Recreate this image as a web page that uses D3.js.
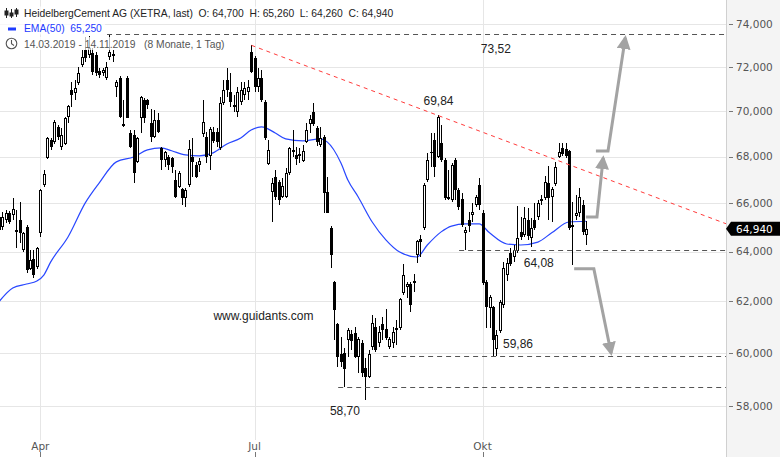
<!DOCTYPE html>
<html><head><meta charset="utf-8">
<script src="https://cdn.jsdelivr.net/npm/d3@7"></script>
<style>body{margin:0;background:#fff;} svg{display:block}</style>
</head><body><svg id="c" width="780" height="457"></svg>
<script>
// ---- data ----
const opens  = [65.43,65.01,65.31,65.60,65.51,64.89,65.31,64.07,65.01,63.30,63.70,63.38,64.77,66.78,67.94,68.72,68.64,69.30,68.42,68.55,69.74,70.95,70.82,71.27,72.09,72.78,72.55,72.65,72.55,71.82,71.73,71.50,72.46,72.55,71.09,71.50,69.43,71.50,69.03,68.94,67.77,69.69,70.50,70.50,69.47,68.86,69.61,68.38,67.85,67.98,67.94,66.99,66.69,66.61,66.23,66.78,67.98,67.64,67.64,68.99,68.86,68.03,69.07,69.07,68.38,70.36,71.40,70.86,70.27,69.96,70.41,70.73,70.86,72.69,72.41,71.09,71.50,70.41,67.68,66.48,67.12,66.90,66.27,66.27,67.29,68.25,68.07,68.11,67.81,68.64,69.43,69.96,69.25,68.51,68.86,66.48,64.97,62.77,61.11,59.95,59.99,60.49,60.73,60.76,59.84,60.38,59.42,59.08,60.22,61.00,60.38,61.11,60.92,60.22,60.38,60.88,60.96,62.33,62.57,62.69,62.73,63.86,64.52,64.97,66.99,68.20,68.72,67.98,68.59,67.85,66.27,66.14,67.85,66.57,66.18,64.77,65.30,65.51,65.93,66.78,65.60,62.77,61.74,61.78,60.15,60.84,61.86,63.06,63.94,63.78,64.03,64.81,64.68,65.31,64.56,65.31,65.43,66.10,66.23,66.86,66.27,66.82,67.98,68.38,68.33,68.25,65.01,65.47,65.60,65.93,64.70];
const highs  = [65.64,65.64,65.72,65.68,66.23,65.72,66.06,64.81,65.10,64.07,64.07,64.19,66.61,67.42,68.86,68.81,69.61,69.38,69.25,69.74,70.27,71.31,71.40,72.00,72.78,73.40,73.45,72.88,72.69,71.95,71.95,72.23,73.52,72.78,71.40,71.58,70.50,71.58,69.16,69.16,68.86,70.68,70.59,70.55,70.09,70.05,69.92,68.42,68.25,68.07,67.98,67.42,67.38,66.65,66.65,68.72,68.81,67.77,67.94,70.50,69.07,69.29,69.29,69.25,70.64,71.40,71.95,71.73,70.73,71.09,71.31,71.31,71.40,73.00,72.50,71.95,71.86,70.50,68.72,67.08,67.42,66.99,67.08,67.51,68.42,69.16,68.42,68.38,68.51,69.47,69.83,70.36,69.34,69.29,68.94,67.12,65.06,62.81,61.15,60.61,60.19,60.96,60.88,61.00,60.61,60.49,59.80,60.11,61.46,61.35,61.04,61.38,61.70,60.61,61.00,61.27,62.13,63.50,62.77,62.77,63.09,64.47,64.68,66.86,68.16,69.03,69.03,69.84,69.38,67.94,67.42,67.72,67.94,66.65,66.44,65.01,65.64,66.01,66.35,67.08,65.72,62.85,62.25,61.82,60.88,62.05,63.58,63.74,64.15,64.27,65.89,65.43,65.85,65.81,65.39,66.01,66.14,66.35,67.16,67.60,66.69,67.77,68.59,68.59,68.59,68.29,66.06,66.35,66.65,66.14,65.26];
const lows   = [64.81,64.89,65.18,65.14,65.31,64.15,64.35,63.98,63.13,63.26,62.93,63.30,64.60,66.69,67.90,68.29,68.55,68.72,68.29,68.51,69.47,70.18,70.50,71.18,72.00,72.23,72.41,71.63,71.58,71.50,71.58,71.40,72.32,72.23,70.64,69.69,69.29,69.69,68.38,66.86,67.72,69.03,69.47,70.10,68.64,68.81,69.03,67.42,67.55,67.42,67.29,66.23,66.65,65.93,65.85,66.69,67.12,67.08,67.34,68.86,67.72,67.42,68.60,68.42,68.29,70.27,70.64,70.18,69.96,69.74,70.27,70.50,70.50,71.73,70.86,70.86,70.41,68.72,67.64,65.20,66.14,65.93,66.23,66.23,67.20,67.98,67.64,67.72,67.77,68.60,69.03,69.34,68.46,68.42,65.60,65.60,63.34,60.48,59.46,59.46,58.70,59.84,60.11,59.80,59.23,59.08,58.23,59.04,60.11,60.03,60.22,60.49,60.49,60.15,60.19,60.30,60.88,62.25,62.13,61.58,62.37,63.54,63.78,64.89,66.90,67.55,67.12,67.94,67.77,66.14,66.14,66.06,66.14,65.72,65.01,64.08,64.81,65.22,65.85,65.72,62.65,60.96,60.96,59.86,59.86,60.76,61.74,62.81,63.42,63.58,63.94,64.47,64.60,64.47,64.19,64.89,65.31,65.93,66.14,65.31,65.22,66.74,67.94,68.03,67.94,64.89,63.46,65.31,65.43,64.68,64.26];
const closes = [64.89,65.43,65.60,65.22,65.77,64.81,64.77,64.77,63.26,63.66,63.05,64.15,66.57,67.25,68.81,68.42,69.52,68.86,68.94,69.69,70.23,70.73,71.04,71.74,72.46,72.41,72.88,71.77,71.73,71.63,71.86,72.00,72.69,72.58,71.31,69.74,69.34,69.69,68.42,67.29,68.81,70.64,69.69,70.27,68.86,69.61,69.07,67.85,68.20,67.64,67.55,66.27,67.29,66.23,66.57,68.33,67.77,67.12,67.81,69.52,67.98,69.20,68.68,68.64,70.36,70.95,70.95,70.41,70.18,70.86,70.95,71.04,71.09,71.77,71.09,71.50,70.50,68.81,68.29,66.86,66.27,66.14,66.74,67.29,68.38,68.29,67.90,68.03,68.25,69.16,69.65,69.43,68.64,68.81,66.44,65.60,63.86,61.66,59.84,59.65,59.38,60.88,60.46,59.84,60.53,59.23,59.08,59.95,61.15,60.11,60.80,60.88,60.57,60.53,60.80,60.96,62.09,63.05,62.69,61.86,62.81,64.43,64.39,66.78,67.85,68.16,67.55,69.74,67.85,66.23,66.20,67.64,66.57,65.85,65.10,64.89,65.05,65.64,66.27,65.93,62.73,61.78,62.17,60.49,60.69,61.97,63.34,63.54,63.50,64.07,64.56,64.60,65.39,64.64,64.97,64.97,66.01,66.18,66.90,66.23,66.61,67.55,68.20,68.11,68.03,64.97,65.10,65.60,66.27,64.81,64.94];
// EMA(50): candle index -> value
const emaIdx = [0,4,8,11,13,15,20,25,29,34,39,43,47,50,54,58,62,66,70,73,76,80,83,88,93,95,99,101,104,108,112,116,121,124,128,131,135,139,142,147,151,156,160,165,170];
const emaVal = [61.98,62.53,62.69,62.81,63.05,63.58,64.60,66.02,66.86,67.77,67.98,68.29,68.38,68.25,68.07,68.03,68.16,68.55,68.81,69.16,69.30,69.03,68.77,68.68,68.77,68.64,67.72,66.99,66.27,65.23,64.48,63.98,63.78,64.27,64.81,65.05,65.14,65.14,64.77,64.31,64.27,64.39,64.77,65.22,65.25];
const yTicks = [58,60,62,64,66,68,70,72,74];
const monthIdx = [12,74,140];
const monthLabels = ["Apr","Jul","Okt"];
// annotations: horizontal levels [startIndex, value, label]
const levels = [[31.3,73.52,"73,52"],[133.2,64.08,"64,08"],[111.2,59.86,"59,86"],[98.2,58.70,"58,70"]];
// label anchors [index, value]
const levelLabelPos = [[139.5,72.85],[151.9,63.56],[145.9,60.35],[95.8,57.82]];
const trendPts = [[73.1,73.0],[127.2,69.80]];
const trendLabel = ["69,84",122.9,70.45];
const arrows = [
  [[172.8,68.24],[176.3,68.24],[181.3,73.35]],
  [[169.9,65.43],[173.1,65.43],[174.9,67.94]],
  [[166.5,63.30],[172.2,63.30],[177.2,59.98]]
];
const lastClose = 64.94;

// ---- chart ----
const svg = d3.select("#c");
const plotR = 726;
const x = d3.scaleLinear().domain([0,170]).range([-1.1, -1.1+3.455*170]);
const y = d3.scaleLog().domain([58,74]).range([405.9,24]);
const fmt = v => d3.format(",.3f")(v).replace(/,/g,"#").replace(".",",").replace(/#/g,".");
const fmt2 = v => v.toFixed(3).replace(".",",");

// right axis panel
svg.append("rect").attr("x",plotR).attr("y",0).attr("width",780-plotR).attr("height",457).attr("fill","#f4f4f4");
svg.append("line").attr("x1",plotR+0.5).attr("x2",plotR+0.5).attr("y1",0).attr("y2",457).attr("stroke","#d0d0d0");

const plot = svg.append("g");
plot.append("defs").append("clipPath").attr("id","pc").append("rect").attr("x",0).attr("y",0).attr("width",plotR).attr("height",440);

// grid
plot.selectAll(".hg").data(yTicks).join("line")
  .attr("x1",0).attr("x2",plotR).attr("y1",d=>Math.round(y(d))+0.5).attr("y2",d=>Math.round(y(d))+0.5)
  .attr("stroke","#e6e6e6");
plot.selectAll(".vg").data(monthIdx).join("line")
  .attr("x1",d=>Math.round(x(d))+0.5).attr("x2",d=>Math.round(x(d))+0.5).attr("y1",0).attr("y2",440)
  .attr("stroke","#e6e6e6");

// right axis ticks + labels
const ax = svg.append("g");
ax.selectAll("line").data(yTicks).join("line")
  .attr("x1",plotR+3).attr("x2",plotR+7).attr("y1",d=>Math.round(y(d))+0.5).attr("y2",d=>Math.round(y(d))+0.5).attr("stroke","#777");
ax.selectAll("text").data(yTicks).join("text")
  .attr("x",plotR+10).attr("y",d=>y(d)).attr("dy","0.36em")
  .attr("font-family","DejaVu Sans, sans-serif").attr("font-size","10.5px").attr("fill","#555")
  .text(d=>d3.format(".3f")(d).replace(".",",").replace(/^(\d\d),(\d)(\d\d)$/, "$1,$2$3"));
// fix: labels like 74,000
ax.selectAll("text").text(d=>d+",000");

// bottom axis
const bx = svg.append("g");
bx.selectAll("text").data(monthIdx).join("text")
  .attr("x",d=>x(d)).attr("y",446).attr("dy","0.36em").attr("text-anchor","middle")
  .attr("font-family","DejaVu Sans, sans-serif").attr("font-size","10.5px").attr("fill","#555")
  .text((d,i)=>monthLabels[i]);
bx.selectAll("line").data(monthIdx).join("line")
  .attr("x1",d=>Math.round(x(d))+0.5).attr("x2",d=>Math.round(x(d))+0.5).attr("y1",452).attr("y2",457).attr("stroke","#777");

const pg = plot.append("g").attr("clip-path","url(#pc)");

// EMA
const emaData = emaIdx.map((d,i)=>[d,emaVal[i]]);
pg.append("path").datum(emaData)
  .attr("d", d3.line().x(d=>x(d[0])).y(d=>y(d[1])).curve(d3.curveMonotoneX))
  .attr("fill","none").attr("stroke","#2847ff").attr("stroke-width",1.2);

// candles
const cd = opens.map((o,i)=>({i,o,h:highs[i],l:lows[i],c:closes[i]}));
const cg = pg.append("g").attr("shape-rendering","crispEdges");
cg.selectAll(".wick").data(cd).join("line")
  .attr("x1",d=>Math.round(x(d.i))+0.5).attr("x2",d=>Math.round(x(d.i))+0.5)
  .attr("y1",d=>y(d.h)).attr("y2",d=>y(d.l)).attr("stroke","#000").attr("stroke-width",1);
cg.selectAll(".body").data(cd).join("rect")
  .attr("x",d=>Math.round(x(d.i))-1+ (d.c>=d.o?0:-0.5))
  .attr("width",d=>d.c>=d.o?2:3)
  .attr("y",d=>Math.min(y(d.o),y(d.c)) + (d.c>=d.o?0.5:0))
  .attr("height",d=>Math.max(1,Math.abs(y(d.o)-y(d.c)) - (d.c>=d.o?1:0)))
  .attr("fill",d=>d.c>=d.o?"#fff":"#000")
  .attr("stroke",d=>d.c>=d.o?"#000":"none").attr("stroke-width",1);

// header background (semi transparent)
const hdr = svg.append("g");
const hbg = hdr.append("g");
const ff = "Liberation Sans, Arial, sans-serif";
const t1 = hdr.append("text").attr("x",24).attr("y",17).attr("font-family",ff).attr("font-size","10.3px").attr("fill","#222").style("white-space","pre")
  .text("HeidelbergCement AG (XETRA, last)  O: 64,700  H: 65,260  L: 64,260  C: 64,940");
const t2 = hdr.append("text").attr("x",24).attr("y",32).attr("font-family",ff).attr("font-size","10.3px").attr("fill","#2339ff").style("white-space","pre")
  .text("EMA(50)  65,250");
const t3 = hdr.append("text").attr("x",24).attr("y",47.5).attr("font-family",ff).attr("font-size","10.3px").attr("fill","#555").style("white-space","pre")
  .text("14.03.2019 - 14.11.2019   (8 Monate, 1 Tag)");
[t1,t2,t3].forEach(t=>{
  const b = t.node().getBBox();
  hbg.append("rect").attr("x",0).attr("y",b.y-1.5).attr("width",b.x+b.width+3).attr("height",b.height+2)
    .attr("fill","#fff").attr("opacity",0.72);
});
// icons
const ic = hdr.append("g").attr("stroke","#222").attr("fill","none").attr("stroke-width",1);
[[6,8,18,11,15],[11,9,18,13,16],[16,8,17,10,14]].forEach(([cx,a,b,c,e])=>{
  ic.append("line").attr("x1",cx+0.5).attr("x2",cx+0.5).attr("y1",a).attr("y2",b);
  ic.append("rect").attr("x",cx-1).attr("y",c).attr("width",3).attr("height",e-c).attr("fill","#222");
});
hdr.append("rect").attr("x",8).attr("y",27.5).attr("width",8).attr("height",3).attr("fill","#1f3cff");
hdr.append("circle").attr("cx",11.5).attr("cy",43.5).attr("r",5.3).attr("fill","none").attr("stroke","#555").attr("stroke-width",1.1);
hdr.append("path").attr("d","M11.5,40 L11.5,43.8 L14,45.5").attr("fill","none").attr("stroke","#555").attr("stroke-width",1.1);

// annotations
const an = svg.append("g");
levels.forEach(([si,v,lab],k)=>{
  an.append("line").attr("x1",x(si)).attr("x2",plotR).attr("y1",Math.round(y(v))+0.5).attr("y2",Math.round(y(v))+0.5)
    .attr("stroke","#555").attr("stroke-dasharray","5,4").attr("stroke-width",1);
  an.append("text").attr("x",x(levelLabelPos[k][0])).attr("y",y(levelLabelPos[k][1])).attr("dy","0.36em")
    .attr("font-family",ff).attr("font-size","12px").attr("fill","#222").text(lab);
});
// trend line extended to right edge
const tx0 = x(trendPts[0][0]), ty0 = y(trendPts[0][1]);
const tx1 = x(trendPts[1][0]), ty1 = y(trendPts[1][1]);
const slope = (ty1-ty0)/(tx1-tx0);
an.append("line").attr("x1",tx0).attr("y1",ty0).attr("x2",plotR).attr("y2",ty0+slope*(plotR-tx0))
  .attr("stroke","#ff3b3b").attr("stroke-dasharray","4,4").attr("stroke-width",1);
an.append("text").attr("x",x(trendLabel[1])).attr("y",y(trendLabel[2])).attr("dy","0.36em")
  .attr("font-family",ff).attr("font-size","12px").attr("fill","#222").text(trendLabel[0]);
an.append("text").attr("x",x(62.1)).attr("y",y(61.42)).attr("dy","0.36em")
  .attr("font-family",ff).attr("font-size","12px").attr("fill","#222").text("www.guidants.com");

// arrows
const defs = svg.append("defs");
defs.append("marker").attr("id","ah").attr("viewBox","0 0 10 10").attr("refX",8).attr("refY",5)
  .attr("markerWidth",14).attr("markerHeight",14).attr("markerUnits","userSpaceOnUse").attr("orient","auto")
  .append("path").attr("d","M0,0 L10,5 L0,10 Z").attr("fill","#a3a3a3");
arrows.forEach(pts=>{
  an.append("path").attr("d",d3.line().x(d=>x(d[0])).y(d=>y(d[1]))(pts))
    .attr("fill","none").attr("stroke","#a3a3a3").attr("stroke-width",3).attr("marker-end","url(#ah)");
});

// last price tag
const ly = y(lastClose);
svg.append("path").attr("d",`M${plotR},${ly} L${plotR+5},${ly-7} L780,${ly-7} L780,${ly+7} L${plotR+5},${ly+7} Z`).attr("fill","#000");
svg.append("text").attr("x",plotR+10).attr("y",ly).attr("dy","0.36em")
  .attr("font-family","DejaVu Sans, sans-serif").attr("font-size","10.5px").attr("fill","#fff")
  .text(lastClose.toFixed(3).replace(".",","));
</script></body></html>
